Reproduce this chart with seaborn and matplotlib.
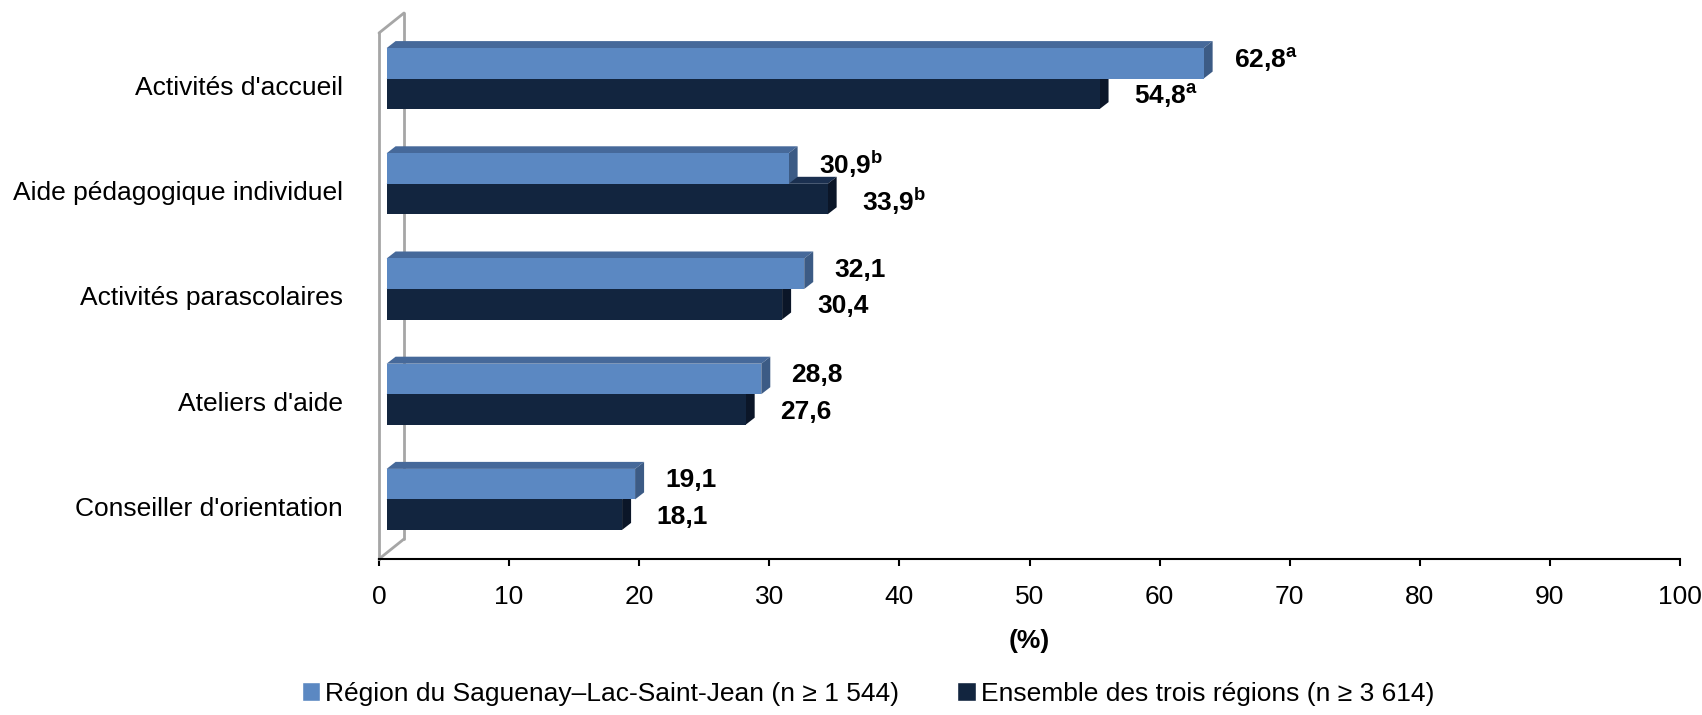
import numpy as np
import pandas as pd
import seaborn as sns
import matplotlib.pyplot as plt
from matplotlib.patches import Polygon, Rectangle
from matplotlib.lines import Line2D
from matplotlib.transforms import ScaledTranslation, IdentityTransform
from matplotlib.colors import to_rgba

# Data
categories = ["Activités d'accueil", "Aide pédagogique individuel",
              "Activités parascolaires", "Ateliers d'aide", "Conseiller d'orientation"]
series = ["Région du Saguenay–Lac-Saint-Jean (n ≥ 1 544)",
          "Ensemble des trois régions (n ≥ 3 614)"]
region_vals = [62.8, 30.9, 32.1, 28.8, 19.1]
ensemble_vals = [54.8, 33.9, 30.4, 27.6, 18.1]
region_sup = ["a", "b", "", "", ""]
ensemble_sup = ["a", "b", "", "", ""]
x_ticks = list(range(0, 101, 10))

# Colours for the fake 3D faces
front_colors = ["#5B88C2", "#12253F"]
top_colors = ["#46699A", "#1B3050"]
side_colors = ["#3C5B85", "#0B1628"]
wall_gray = "#A6A6A6"

df = pd.DataFrame({
    "Service": categories * 2,
    "Groupe": [series[0]] * len(categories) + [series[1]] * len(categories),
    "Pourcentage": region_vals + ensemble_vals,
})

sns.set_style("white")
plt.rcParams['font.family'] = ['Liberation Sans Narrow', 'Liberation Sans', 'DejaVu Sans']
plt.rcParams['mathtext.fontset'] = 'custom'
plt.rcParams['mathtext.rm'] = 'Liberation Sans'
plt.rcParams['mathtext.bf'] = 'Liberation Sans:bold'
plt.rcParams['text.color'] = 'black'
plt.rcParams['axes.labelcolor'] = 'black'
plt.rcParams['xtick.color'] = 'black'
plt.rcParams['ytick.color'] = 'black'

fig = plt.figure(figsize=(17.02, 7.15), dpi=100)
ax = fig.add_axes([379 / 1702, 1 - 559 / 715, (1680 - 379) / 1702, (559 - 33) / 715])

sns.barplot(data=df, x="Pourcentage", y="Service", hue="Groupe", hue_order=series,
            palette=front_colors, width=0.58, orient="h", ax=ax, legend=False,
            saturation=1, edgecolor="none")

ax.set_xlim(0, 100)
ax.set_ylim(len(categories) - 0.5, -0.5)
ax.set_xticks(x_ticks)
ax.set_xticklabels([str(t) for t in x_ticks])
ax.set_yticks(np.arange(-0.5, len(categories), 1), minor=True)
ax.set_ylabel("")
ax.set_xlabel("(%)", fontsize=19, fontweight="bold", labelpad=14)

sns.despine(ax=ax, top=True, right=True)
ax.spines["left"].set_color(wall_gray)
ax.spines["left"].set_linewidth(2)
ax.spines["bottom"].set_color("black")
ax.spines["bottom"].set_linewidth(1.5)
ax.tick_params(axis="y", which="major", length=0, pad=26, labelsize=19, labelcolor="black")
ax.tick_params(axis="y", which="minor", length=6, width=1.5, color=wall_gray, direction="out")
ax.tick_params(axis="x", which="major", length=5, width=1.5, color="black", direction="out",
               pad=14, labelsize=19, bottom=True, labelcolor="black")

# 3D look: shift the front faces, add top and side faces (pixels)
px = 1 / 100
shift_x, shift_y = 7.6, 7.0
depth_x, depth_y = 9.0, 7.0
shift = ScaledTranslation(shift_x * px, shift_y * px, fig.dpi_scale_trans)
ident = IdentityTransform()

for p in list(ax.patches):
    idx = 0 if np.allclose(p.get_facecolor(), to_rgba(front_colors[0])) else 1
    p.set_transform(ax.transData + shift)
    p.set_zorder(3.5 if idx == 0 else 2.5)
    (x0, y0), (x1, y1) = (ax.transData + shift).transform(
        [(p.get_x(), p.get_y()), (p.get_x() + p.get_width(), p.get_y() + p.get_height())])
    xl, xr = min(x0, x1), max(x0, x1)
    yb, yt = min(y0, y1), max(y0, y1)
    top = Polygon([(xl, yt), (xl + depth_x, yt + depth_y), (xr + depth_x, yt + depth_y), (xr, yt)],
                  closed=True, facecolor=top_colors[idx], edgecolor="none",
                  transform=ident, clip_on=False, zorder=3 if idx == 0 else 2)
    side = Polygon([(xr, yb), (xr + depth_x, yb + depth_y), (xr + depth_x, yt + depth_y), (xr, yt)],
                   closed=True, facecolor=side_colors[idx], edgecolor="none",
                   transform=ident, clip_on=False, zorder=3 if idx == 0 else 2)
    ax.add_artist(top)
    ax.add_artist(side)

# Back wall lines
wall_dx, wall_dy = 25, 20
(fx, fyb), (_, fyt) = ax.transData.transform([(0, len(categories) - 0.5), (0, -0.5)])
for xs, ys in [([fx + wall_dx, fx + wall_dx], [fyb + wall_dy, fyt + wall_dy]),
               ([fx, fx + wall_dx], [fyt, fyt + wall_dy]),
               ([fx, fx + wall_dx], [fyb, fyb + wall_dy])]:
    ax.add_artist(Line2D(xs, ys, color=wall_gray, lw=2, transform=ident, clip_on=False, zorder=1))

# Value labels
def fmt(v, sup):
    s = f"{v:.1f}".replace(".", ",")
    if sup:
        s += r"$^{\mathbf{" + sup + "}}$"
    return s

half = 0.58 / 4
for i, (rv, ev) in enumerate(zip(region_vals, ensemble_vals)):
    ax.annotate(fmt(rv, region_sup[i]), xy=(rv, i - half), xycoords="data",
                xytext=(27, 8), textcoords="offset points", ha="left", va="center",
                fontsize=19, fontweight="bold", color="black", zorder=5)
    ax.annotate(fmt(ev, ensemble_sup[i]), xy=(ev, i + half), xycoords="data",
                xytext=(30.5, 3.5), textcoords="offset points", ha="left", va="center",
                fontsize=19, fontweight="bold", color="black", zorder=5)

handles = [Rectangle((0, 0), 1, 1, facecolor=c) for c in front_colors]
fig.legend(handles, series, loc="lower center", bbox_to_anchor=(0.51, -0.02), ncol=2,
           frameon=False, fontsize=19, handlelength=0.7, handleheight=0.7,
           handletextpad=0.2, columnspacing=2.2)

fig.savefig("out.png", dpi=100)
